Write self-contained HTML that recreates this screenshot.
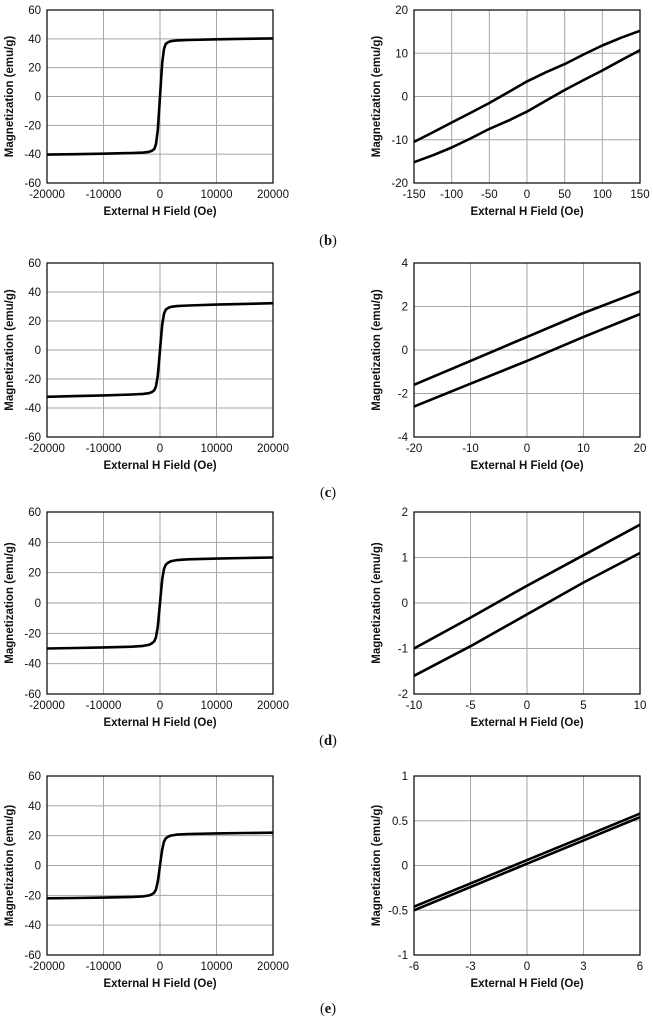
<!DOCTYPE html>
<html><head><meta charset="utf-8">
<style>
html,body{margin:0;padding:0;background:#fff;}
svg{display:block;font-family:"Liberation Sans",Arial,sans-serif;}
</style></head>
<body>
<svg id="fig" width="653" height="1024" viewBox="0 0 653 1024" xmlns="http://www.w3.org/2000/svg"></svg>
<script>
// ---- data ----
const wideH = [-20000,-15000,-10000,-5000,-3000,-2000,-1500,-1000,-700,-400,-200,0,200,400,700,1000,1500,2000,3000,5000,10000,15000,20000];
const wideB = [-40.3,-40,-39.7,-39.2,-38.9,-38.4,-37.8,-36.5,-33,-24,-12,0,12,24,33,36.5,37.8,38.4,38.9,39.2,39.7,40,40.3];
const wideC = [-32.3,-31.8,-31.3,-30.7,-30.3,-29.8,-29.2,-27.8,-25,-18,-9,0,9,18,25,27.8,29.2,29.8,30.3,30.7,31.3,31.8,32.3];
const wideD = [-30,-29.7,-29.3,-28.8,-28.3,-27.6,-26.8,-25.2,-22.5,-16,-8,0,8,16,22.5,25.2,26.8,27.6,28.3,28.8,29.3,29.7,30];
const wideE = [-22,-21.8,-21.5,-21.1,-20.7,-20.1,-19.5,-18.2,-16,-11,-5.5,0,5.5,11,16,18.2,19.5,20.1,20.7,21.1,21.5,21.8,22];
const wideTicksX = [-20000,-10000,0,10000,20000];
const wideTicksY = [-60,-40,-20,0,20,40,60];

const hB = [-150,-125,-100,-75,-50,-25,0,25,50,75,100,125,150];
const upB = [-10.5,-8.3,-6,-3.8,-1.5,1,3.5,5.6,7.5,9.7,11.8,13.6,15.2];
const loB = [-15.2,-13.6,-11.8,-9.7,-7.5,-5.6,-3.5,-1,1.5,3.8,6,8.4,10.7];
const hC = [-20,-10,0,10,20];
const upC = [-1.6,-0.5,0.6,1.7,2.7];
const loC = [-2.6,-1.55,-0.5,0.6,1.65];
const hD = [-10,-5,0,5,10];
const upD = [-1,-0.32,0.38,1.05,1.72];
const loD = [-1.6,-0.95,-0.25,0.45,1.1];
const hE = [-6,-3,0,3,6];
const upE = [-0.46,-0.2,0.06,0.32,0.58];
const loE = [-0.5,-0.24,0.02,0.28,0.54];

const ticksXB = [-150,-100,-50,0,50,100,150], ticksYB = [-20,-10,0,10,20];
const ticksXC = [-20,-10,0,10,20], ticksYC = [-4,-2,0,2,4];
const ticksXD = [-10,-5,0,5,10], ticksYD = [-2,-1,0,1,2];
const ticksXE = [-6,-3,0,3,6], ticksYE = [-1,-0.5,0,0.5,1];

// ---- drawing ----
const NS = 'http://www.w3.org/2000/svg';
const svg = document.getElementById('fig');
function mk(tag, attrs, parent){
  const e = document.createElementNS(NS, tag);
  for (const k in attrs) e.setAttribute(k, attrs[k]);
  (parent||svg).appendChild(e);
  return e;
}
const rowTop = [10,263,512,776], rowBot = [183,437,694,955];
const letterY = [245,497,745,1013];

function panel(name, x0, x1, y0, y1, tx, ty, series){
  const g = mk('g', {});
  
  
  const xmin = tx[0], xmax = tx[tx.length-1], ymin = ty[0], ymax = ty[ty.length-1];
  const sx = v => x0 + (v - xmin) / (xmax - xmin) * (x1 - x0);
  const sy = v => y1 - (v - ymin) / (ymax - ymin) * (y1 - y0);
  tx.forEach(t => {
    const l = mk('line', {x1:sx(t), x2:sx(t), y1:y0, y2:y1, stroke:'#a6a6a6', 'stroke-width':1}, g);
    
    
    const tt = mk('text', {x:sx(t), y:y1+15, 'font-size':11.5, 'text-anchor':'middle', fill:'#111'}, g);
    tt.textContent = t;
    
    
  });
  ty.forEach(t => {
    const l = mk('line', {x1:x0, x2:x1, y1:sy(t), y2:sy(t), stroke:'#a6a6a6', 'stroke-width':1}, g);
    
    
    const tt = mk('text', {x:x0-6, y:sy(t)+4, 'font-size':11.5, 'text-anchor':'end', fill:'#111'}, g);
    tt.textContent = t;
    
    
  });
  const fr = mk('rect', {x:x0, y:y0, width:x1-x0, height:y1-y0, fill:'none', stroke:'#000', 'stroke-width':1.2}, g);
  
  
  series.forEach(s => {
    const pts = s.h.map((h,i) => sx(h).toFixed(1)+','+sy(s.m[i]).toFixed(1)).join(' ');
    const p = mk('polyline', {points:pts, fill:'none', stroke:'#000', 'stroke-width':2.6, 'stroke-linejoin':'round'}, g);
    
    
  });
  const xt = mk('text', {x:(x0+x1)/2, y:y1+32, 'font-size':11.5, 'font-weight':'bold', 'text-anchor':'middle', fill:'#111'}, g);
  xt.textContent = 'External H Field (Oe)';
  
  
  const cy = (y0+y1)/2, cx = x0 - 34;
  const yt = mk('text', {x:cx, y:cy, 'font-size':11.5, 'font-weight':'bold', 'text-anchor':'middle', fill:'#111', transform:`rotate(-90 ${cx} ${cy})`}, g);
  yt.textContent = 'Magnetization (emu/g)';
  
  
}

const wides = [wideB, wideC, wideD, wideE];
const narrow = [
  [hB, upB, loB, ticksXB, ticksYB],
  [hC, upC, loC, ticksXC, ticksYC],
  [hD, upD, loD, ticksXD, ticksYD],
  [hE, upE, loE, ticksXE, ticksYE]
];
for (let r = 0; r < 4; r++){
  panel('full-loop-chart-' + 'bcde'[r], 47, 273, rowTop[r], rowBot[r], wideTicksX, wideTicksY,
    [{h:wideH, m:wides[r], name:'full-loop-curve'}]);
  const n = narrow[r];
  panel('low-field-chart-' + 'bcde'[r], 414, 640, rowTop[r], rowBot[r], n[3], n[4],
    [{h:n[0], m:n[1], name:'descending-branch'}, {h:n[0], m:n[2], name:'ascending-branch'}]);
  const lt = mk('text', {x:328, y:letterY[r], 'font-size':14.5, 'text-anchor':'middle', fill:'#111', 'font-family':'"Liberation Serif",serif'});
  lt.innerHTML = '(<tspan font-weight="bold">' + 'bcde'[r] + '</tspan>)';
  
  
}
</script>
</body></html>
